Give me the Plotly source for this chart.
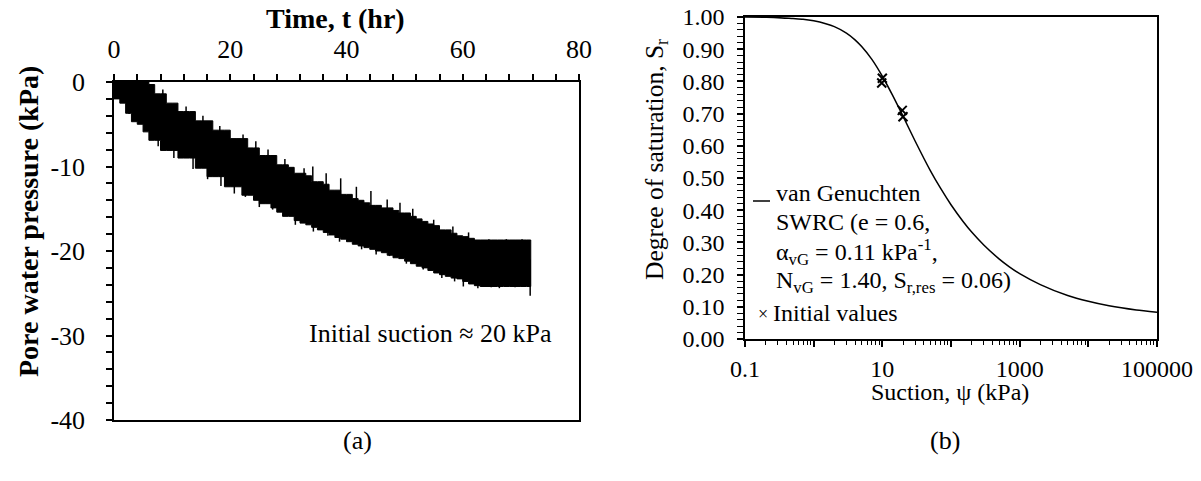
import plotly.graph_objects as go

# ---------------- Panel (a): pore water pressure vs time ----------------
time_hr = list(range(0, 72)) + [71.7]
# upper (least negative) edge of the noisy record, kPa
pwp_upper = [0, 0, 0, 0, 0, 0, -0.3, -1.4, -1.4, -2.5,
             -2.5, -3.5, -3.5, -3.5, -4.6, -4.6, -4.6, -5.7, -5.7, -5.7,
             -6.7, -6.7, -6.7, -7.8, -7.8, -8.7, -8.7, -8.7, -9.8, -9.8,
             -10.1, -10.8, -10.8, -11.1, -11.8, -11.8, -12.1, -12.8, -12.8, -13.3,
             -13.3, -13.8, -14.0, -14.3, -14.6, -14.6, -14.9, -14.9, -15.2, -15.5,
             -15.5, -15.9, -16.2, -16.5, -16.8, -17.0, -17.5, -17.5, -17.9, -18.2,
             -18.3, -18.5, -18.7, -18.7, -18.7, -18.7, -18.7, -18.7, -18.7, -18.7,
             -18.7, -18.7, -18.7]
# lower (most negative) edge of the noisy record, kPa
pwp_lower = [-0.5, -2.0, -2.5, -3.7, -4.7, -5.0, -5.9, -6.9, -6.9, -8.1,
             -8.1, -8.1, -9.0, -9.0, -9.0, -10.2, -10.2, -11.2, -11.2, -11.2,
             -12.4, -12.4, -12.4, -13.4, -13.4, -14.0, -14.4, -14.4, -14.9, -15.4,
             -15.9, -15.9, -16.4, -16.7, -16.9, -17.2, -17.5, -17.8, -18.1, -18.4,
             -18.6, -18.9, -19.2, -19.4, -19.6, -19.8, -20.0, -20.2, -20.5, -20.8,
             -20.9, -21.2, -21.5, -21.8, -22.0, -22.3, -22.6, -22.8, -23.0, -23.2,
             -23.3, -23.6, -23.9, -24.1, -24.2, -24.2, -24.2, -24.2, -24.2, -24.2,
             -24.2, -24.2, -24.2]
# isolated spikes of the record: time, top, bottom
spike_t = [2.6, 7.6, 10.3, 13.6, 16.1, 18.4, 20.7, 22.6, 25.0, 27.3, 31.2, 34.3, 36.8,
           38.8, 42.6, 45.1, 47.4, 50.3, 53.2, 56.4, 58.6, 60.1, 62.6, 64.9, 66.3, 69.0, 71.6,
           4.8, 8.4, 12.4, 15.3, 18.2, 22.2, 24.4, 26.5, 29.4, 32.7, 34.2, 36.5, 39.0, 41.7,
           44.2, 47.0, 49.2, 51.4, 55.0, 58.3, 61.0, 64.5, 67.5, 70.2]
spike_top = [-2, -5, -6, -7, -8, -9, -10, -10, -11, -12, -13, -14, -15,
             -16, -17, -17, -18, -18, -19, -20, -20, -21, -21, -21, -21, -21, -21,
             0, -0.9, -2.9, -4.0, -5.2, -6.2, -7.0, -8.0, -9.1, -10.2, -10.0, -10.8, -11.4, -12.4,
             -12.9, -13.9, -14.3, -15.0, -16.3, -17.1, -17.8, -18.6, -18.6, -18.6]
spike_bottom = [-3.8, -7.6, -9.0, -10.3, -11.5, -12.3, -13.2, -13.6, -14.8, -15.1, -16.9, -17.7, -18.2,
                -18.9, -19.8, -20.4, -20.6, -21.5, -22.2, -23.2, -23.6, -24.2, -24.4, -24.3, -24.4,
                -24.3, -25.3,
                -2, -3, -5, -6, -7, -8, -9, -10, -11, -12, -12, -13, -14, -15,
                -15, -16, -17, -17, -18, -19, -20, -20, -20, -20]
time_ticks = [0, 20, 40, 60, 80]
pwp_ticks = [0, -10, -20, -30, -40]
pwp_ticktext = ["0", "-10", "-20", "-30", "-40"]

# ---------------- Panel (b): SWRC ----------------
suction_kpa = [0.1, 0.2, 0.3, 0.5, 0.7, 1, 1.5, 2, 3, 4, 5, 7, 10, 14, 20, 30, 50, 70,
               100, 150, 200, 300, 500, 700, 1000, 2000, 5000, 10000, 20000, 50000, 100000]
sr_curve = [1.000, 0.999, 0.998, 0.995, 0.993, 0.988, 0.979, 0.970, 0.950, 0.929, 0.908,
            0.869, 0.816, 0.758, 0.692, 0.615, 0.523, 0.469, 0.417, 0.365, 0.332, 0.292,
            0.249, 0.225, 0.203, 0.169, 0.135, 0.117, 0.103, 0.090, 0.083]
init_suction = [10, 9.8, 19.5, 20]
init_sr = [0.81, 0.795, 0.71, 0.69]
suction_tickvals = [0.1, 1, 10, 100, 1000, 10000, 100000]
suction_ticktext = ["0.1", "", "10", "", "1000", "", "100000"]

W, H = 1201, 481
FONT = "Liberation Serif, Times New Roman, serif"

def px(x):
    return x / W

def py(y):
    return 1 - y / H

fig = go.Figure()

band_x = time_hr + time_hr[::-1]
band_y = pwp_upper + pwp_lower[::-1]
fig.add_trace(go.Scatter(x=band_x, y=band_y, mode="lines", fill="toself",
                         fillcolor="black", line=dict(color="black", width=1, shape="hv"),
                         xaxis="x", yaxis="y", showlegend=False, hoverinfo="skip"))
sx, sy = [], []
for t, a, b in zip(spike_t, spike_top, spike_bottom):
    sx += [t, t, None]
    sy += [a, b, None]
fig.add_trace(go.Scatter(x=sx, y=sy, mode="lines", line=dict(color="black", width=1.5),
                         xaxis="x", yaxis="y", showlegend=False, hoverinfo="skip"))

fig.add_trace(go.Scatter(x=suction_kpa, y=sr_curve, mode="lines",
                         line=dict(color="black", width=1.5, shape="spline", smoothing=0.6),
                         xaxis="x2", yaxis="y2", showlegend=False))
fig.add_trace(go.Scatter(x=init_suction, y=init_sr, mode="markers",
                         marker=dict(symbol="x-thin", size=9, line=dict(color="black", width=2)),
                         xaxis="x2", yaxis="y2", showlegend=False))

minor_log = [m * 10 ** k for k in range(-1, 5) for m in range(2, 10)]

axis_common = dict(showline=True, linecolor="black", linewidth=1.5, mirror=True,
                   ticks="outside", ticklen=6, tickwidth=1.5, tickcolor="black",
                   showgrid=False, zeroline=False, automargin=False)

fig.update_layout(
    template="none",
    width=W, height=H, autosize=False,
    margin=dict(l=0, r=0, t=0, b=0, pad=0),
    paper_bgcolor="white", plot_bgcolor="white",
    font=dict(family=FONT, color="black"),
    xaxis=dict(domain=[px(114), px(579)], anchor="y", side="top", range=[0, 80],
               tickmode="array", tickvals=time_ticks,
               tickfont=dict(size=26, family=FONT, color="black"), ticklabelstandoff=6,
               minor=dict(ticks="outside", dtick=4, ticklen=6, tickwidth=1.5, tickcolor="black"),
               **axis_common),
    yaxis=dict(domain=[py(420), py(82)], anchor="x", range=[-40, 0],
               tickmode="array", tickvals=pwp_ticks, ticktext=pwp_ticktext,
               tickfont=dict(size=26, family=FONT, color="black"), ticklabelstandoff=16,
               minor=dict(ticks="outside", dtick=2, ticklen=6, tickwidth=1.5, tickcolor="black"),
               **axis_common),
    xaxis2=dict(domain=[px(745), px(1157)], anchor="y2", type="log", range=[-1, 5],
                tickmode="array", tickvals=suction_tickvals, ticktext=suction_ticktext,
                tickfont=dict(size=24, family=FONT, color="black"), ticklabelstandoff=1,
                minor=dict(ticks="outside", tickmode="array", tickvals=minor_log, ticklen=4,
                           tickwidth=1.2, tickcolor="black"),
                **axis_common),
    yaxis2=dict(domain=[py(339), py(17)], anchor="x2", range=[0, 1], dtick=0.1,
                tickformat=".2f",
                tickfont=dict(size=24, family=FONT, color="black"), ticklabelstandoff=8,
                minor=dict(ticks="outside", dtick=0.02, ticklen=6, tickwidth=1.2, tickcolor="black"),
                **axis_common),
)

def ann(text, x, y, size, xanchor="center", angle=0, bold=False):
    fig.add_annotation(text=f"<b>{text}</b>" if bold else text, x=px(x), y=py(y),
                       xref="paper", yref="paper", showarrow=False, xanchor=xanchor,
                       yanchor="middle", textangle=angle,
                       font=dict(family=FONT, size=size, color="black"))

ann("Time, t (hr)", 335, 18, 28, bold=True)
ann("Pore water pressure (kPa)", 28, 222, 28, angle=-90, bold=True)
ann("Initial suction \u2248 20 kPa", 430, 333, 26)
ann("(a)", 357, 440, 26)
ann("(b)", 945, 440, 26)
ann("Degree of saturation, S<sub>r</sub>", 656, 160, 25.5, angle=-90)
ann("Suction, \u03c8 (kPa)", 950, 392, 24)
ann("van Genuchten", 774, 193, 24, xanchor="left")
ann("SWRC (e = 0.6,", 774, 222, 24, xanchor="left")
ann("\u03b1<sub>vG</sub> = 0.11 kPa<sup>-1</sup>,", 774, 252, 24, xanchor="left")
ann("N<sub>vG</sub> = 1.40, S<sub>r,res</sub> = 0.06)", 774, 282, 24, xanchor="left")
ann("\u00d7", 756, 314, 18, xanchor="left")
ann("Initial values", 771, 313, 24, xanchor="left")

fig.add_shape(type="line", xref="paper", yref="paper", x0=px(753), x1=px(770),
              y0=py(201), y1=py(201), line=dict(color="black", width=1.5))

fig.write_html("out.html")
